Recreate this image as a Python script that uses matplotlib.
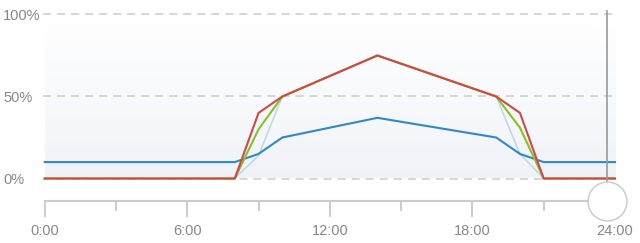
import numpy as np
import matplotlib
matplotlib.use("Agg")
import matplotlib.pyplot as plt
from matplotlib.colors import LinearSegmentedColormap

# hour of day and percentage values
hours = [0, 8, 9, 10, 14, 19, 20, 21, 24]
blue_vals = [10, 10, 15, 25, 37, 25, 15, 10, 10]
red_vals = [0, 0, 40, 50, 75, 50, 40, 0, 0]
green_vals = [0, 0, 30, 50, 75, 50, 31, 0, 0]
light_vals = [0, 0, 14, 50, 75, 50, 15, 0, 0]

x_major = [0, 6, 12, 18, 24]
x_labels = ["0:00", "6:00", "12:00", "18:00", "24:00"]
x_minor = [3, 9, 15, 21]
y_ticks = [0, 50, 100]
y_labels = ["0%", "50%", "100%"]
handle_hour = 23.67

plt.rcParams['font.family'] = ['Liberation Sans', 'DejaVu Sans']
plt.rcParams['lines.scale_dashes'] = False

W, H = 640, 243
fig = plt.figure(figsize=(W / 100, H / 100), dpi=100)
# axes in pixel terms: x 0h..24h -> 44.7..615, y from 201 (bottom line) to 14.5 (100%)
left, right = 44.7, 615
top_px, bot_px = 14.5, 201
ax = fig.add_axes([left / W, (H - bot_px) / H, (right - left) / W, (bot_px - top_px) / H])
ymin = -(bot_px - 178.5) / 1.64
ax.set_xlim(0, 24)
ax.set_ylim(ymin, 100)

# soft gradient background
cmap = LinearSegmentedColormap.from_list("bg", ["#eff2f7", "#ffffff"])
grad = np.linspace(0, 1, 256).reshape(-1, 1) ** 0.8
ax.imshow(grad, extent=(0, 24, 0, 100), origin="lower", aspect="auto", cmap=cmap, zorder=0)

for yv in y_ticks:
    ax.axhline(yv, color="#cccccc", lw=1.1, linestyle=(0, (5.8, 4.3)), zorder=1,
               xmin=-1.4 / (right - left), clip_on=False)

ax.plot(hours, light_vals, color="#c4d9e2", lw=1.2, zorder=2, clip_on=False)
ax.plot(hours, blue_vals, color="#3088cc", lw=1.5, zorder=3, clip_on=False)
ax.plot(hours, green_vals, color="#86c226", lw=1.5, zorder=4, clip_on=False)
ax.plot(hours, red_vals, color="#d44747", lw=1.5, zorder=5, clip_on=False)

# slider line and handle
ax.plot([handle_hour, handle_hour], [ymin, 102], color="#999999", lw=1.2, zorder=6, clip_on=False)
ax.plot([handle_hour], [ymin], marker="o", ms=28, mfc="white", mec="#cccccc", mew=1.1,
        zorder=10, clip_on=False)

for s in ["top", "left", "right"]:
    ax.spines[s].set_visible(False)
ax.spines["bottom"].set_color("#cccccc")
ax.spines["bottom"].set_linewidth(1.5)

ax.set_xticks(x_major)
ax.set_xticklabels(x_labels)
ax.set_xticks(x_minor, minor=True)
ax.tick_params(axis="x", which="major", length=11.5, width=1.4, color="#cccccc",
               labelcolor="#888888", labelsize=10.5, pad=5)
ax.tick_params(axis="x", which="minor", length=7.2, width=1.4, color="#cccccc")

ax.set_yticks(y_ticks)
ax.set_yticklabels(y_labels)
ax.tick_params(axis="y", length=0, labelcolor="#888888", labelsize=10.5, pad=30)
for lab in ax.get_yticklabels():
    lab.set_horizontalalignment("left")

fig.savefig("out.png", dpi=100)
